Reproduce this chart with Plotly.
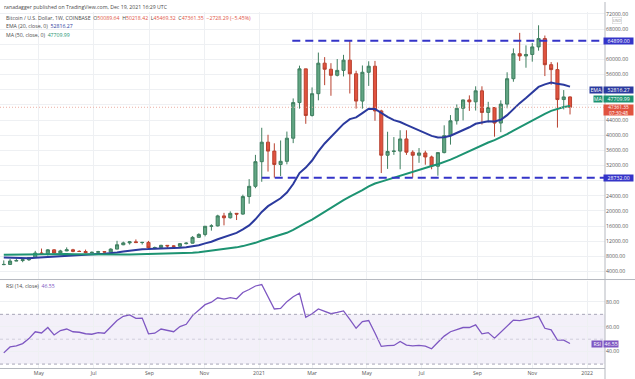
import plotly.graph_objects as go
import pandas as pd

# ---------------- data (weekly BTC/USD, Coinbase) ----------------
week_start = "2020-03-23"
n_weeks = 91
dates = pd.date_range(week_start, periods=n_weeks, freq="7D")

opens = [5830, 5880, 6775, 6910, 7120, 7700, 8900, 8720, 9730, 8900,
         9450, 9750, 9340, 9300, 9000, 9070, 9240, 9160, 9930, 11070,
         11570, 11850, 11660, 11700, 10250, 10330, 10920, 10770, 10670, 11370,
         11500, 13030, 13800, 15960, 16050, 18700, 18200, 19370, 19170, 23800,
         26500, 33000, 38150, 35800, 32270, 33100, 39200, 48600, 57500, 45200,
         50950, 59000, 57400, 55800, 57100, 59800, 56200, 49000, 56600, 58200,
         46400, 34700, 35700, 35800, 39000, 35500, 34700, 35300, 34250, 31800,
         35400, 39870, 43800, 47100, 49300, 48800, 51700, 46000, 47300, 43200,
         48200, 54900, 61500, 60900, 61300, 63300, 65500, 58600, 57300, 49400,
         50089.64]
highs = [6950, 7300, 7470, 7200, 7740, 9470, 10070, 9950, 9900, 9750,
         10380, 10000, 9590, 9800, 9300, 9470, 9330, 10150, 12120, 11900,
         12080, 12480, 11820, 12090, 10600, 11080, 10950, 10950, 11490, 11730,
         13350, 14100, 16000, 16500, 19000, 19500, 19900, 19400, 24300, 28400,
         34800, 41950, 40100, 37850, 38600, 40950, 49700, 58350, 57500, 52600,
         61800, 60600, 59000, 60100, 61200, 64899, 57000, 58400, 59500, 59600,
         46700, 40900, 39500, 41300, 41300, 36000, 36600, 35900, 34600, 35400,
         42600, 45300, 48100, 49400, 50500, 52900, 52900, 48800, 47300, 49200,
         56600, 62900, 67000, 63700, 64300, 69000, 66300, 59300, 59200, 51900,
         50218.42]
lows = [5690, 5860, 6750, 6470, 6790, 7660, 8700, 8220, 8800, 8640,
        9380, 9100, 9210, 8830, 8940, 9050, 9000, 9150, 9900, 10960,
        11130, 11520, 11140, 9880, 9880, 10200, 10130, 10400, 10530, 11180,
        11420, 12940, 13300, 14800, 15900, 16200, 18000, 17600, 19000, 21900,
        26000, 27700, 30400, 28800, 29200, 32300, 37900, 47000, 43000, 44900,
        49200, 53200, 50400, 55500, 55500, 51000, 47000, 47000, 53000, 43800,
        30000, 31100, 34800, 31000, 34800, 28800, 32700, 32200, 31000, 29300,
        35200, 37500, 42800, 43900, 46400, 46500, 42800, 43400, 39600, 40800,
        47100, 54100, 59600, 57800, 59400, 62300, 55600, 53300, 42000, 46800,
        45469.32]
closes = [5880, 6775, 6910, 7120, 7700, 8900, 8720, 9730, 8900, 9450,
          9750, 9340, 9300, 9000, 9070, 9240, 9160, 9930, 11070, 11570,
          11850, 11660, 11700, 10250, 10330, 10920, 10770, 10670, 11370, 11500,
          13030, 13800, 15960, 16050, 18700, 18200, 19370, 19170, 23800, 26500,
          33000, 38150, 35800, 32270, 33100, 39200, 48600, 57500, 45200, 50950,
          59000, 57400, 55800, 57100, 59800, 56200, 49000, 56600, 58200, 46400,
          34700, 35700, 35800, 39000, 35500, 34700, 35300, 34250, 31800, 35400,
          39870, 43800, 47100, 49300, 48800, 51700, 46000, 47300, 43200, 48200,
          54900, 61500, 60900, 61300, 63300, 65500, 58600, 57300, 49400, 50089.64,
          47361.35]
ema20 = [7700, 7612, 7545, 7505, 7524, 7655, 7756, 7944, 8035, 8170,
         8320, 8417, 8501, 8549, 8599, 8660, 8708, 8824, 9038, 9279,
         9524, 9727, 9915, 9947, 9983, 10072, 10138, 10189, 10301, 10415,
         10664, 10963, 11439, 11878, 12527, 13067, 13665, 14200, 15115, 16199,
         17798, 19736, 21266, 22314, 23341, 24851, 27112, 30005, 31452, 33308,
         35753, 37814, 39527, 41199, 42970, 44229, 44683, 45818, 46996, 46939,
         45774, 44815, 43957, 43485, 42725, 41961, 41327, 40653, 39810, 39390,
         39436, 39852, 40542, 41376, 42083, 42999, 43285, 43667, 43623, 44059,
         45289, 47000, 48458, 49823, 51258, 52726, 53402, 53874, 53542, 53299,
         52816.27]
ma50 = [8411, 8445, 8484, 8515, 8530, 8552, 8557, 8585, 8608, 8623,
        8606, 8577, 8540, 8520, 8494, 8493, 8444, 8420, 8439, 8474,
        8523, 8552, 8585, 8594, 8642, 8701, 8754, 8809, 8849, 8898,
        8987, 9097, 9281, 9455, 9684, 9910, 10147, 10390, 10723, 11096,
        11586, 12181, 12714, 13160, 13629, 14224, 15029, 16023, 16824, 17731,
        18797, 19809, 20787, 21787, 22829, 23775, 24581, 25518, 26504, 27243,
        27742, 28269, 28799, 29399, 29928, 30437, 30960, 31446, 31861, 32338,
        32898, 33541, 34249, 35030, 35799, 36615, 37320, 38053, 38690, 39424,
        40261, 41215, 42114, 43019, 43911, 44857, 45646, 46406, 46940, 47420,
        47709.99]
rsi14 = [39, 43.8, 44.6, 46.5, 50.5, 56, 55, 59.4, 53.4, 57,
         58.2, 56, 55.6, 54.4, 54, 55.3, 54.8, 59.8, 65, 68.4,
         69.5, 66.8, 67, 54.3, 54.8, 58.2, 57.3, 56, 60.2, 62,
         69, 73.5, 77.8, 79.8, 83.3, 82.2, 83.4, 82.5, 87.6, 90,
         92.8, 94, 84, 74.3, 74.8, 80.2, 84.2, 87, 67.6, 70.5,
         74.3, 72.5, 70.5, 71.5, 72.7, 66, 58.8, 64.2, 65, 55,
         44.2, 44.8, 45, 48.2, 45.2, 44.6, 45, 44.5, 42.3, 47.5,
         52.5, 56, 58, 59.4, 59.4, 61.5, 54.3, 55.3, 50.8, 55.5,
         61, 65.4, 65, 65.8, 67, 68.4, 58.8, 57.5, 49.2, 49.2,
         46.55]

level_values = [64899.00, 28732.00]
level_starts = ["2021-02-07", "2021-01-04"]
price_ticks = list(range(4000, 72001, 4000))
price_ticks_hidden = [28000, 48000, 52000, 64000]   # covered by value labels in the reference
price_label_ticks = [t for t in price_ticks if t not in price_ticks_hidden]
rsi_ticks = [40, 60, 80]
month_ticks = ["2020-05-01", "2020-07-01", "2020-09-01", "2020-11-01", "2021-01-01",
               "2021-03-01", "2021-05-01", "2021-07-01", "2021-09-01", "2021-11-01",
               "2022-01-01"]
month_labels = ["May", "Jul", "Sep", "Nov", "2021", "Mar", "May", "Jul", "Sep", "Nov", "2022"]

last_close = closes[-1]
last_ema = ema20[-1]
last_ma = ma50[-1]
last_rsi = rsi14[-1]

# ---------------- styles ----------------
W, H = 635, 379
FONT = "Open Sans"
UP_FILL, UP_LINE = "#62A684", "#3F7F60"
DN_FILL, DN_LINE = "#E1533F", "#B8412F"
EMA_C = "#2B3A9E"
MA_C = "#1D9372"
RSI_C = "#7E57C2"
LVL_C = "#3434C8"
GRID = "#EEF0F3"
AXIS = "#B5B8BF"
TXT = "#4A4A4A"


def py(p):
    return 1 - p / H


def px(p):
    return p / W


X_RIGHT = px(605)
x_range = ["2020-03-18 19:00", "2022-01-20 22:00"]
price_range = [2162, 72522]

fig = go.Figure()
fig.add_trace(go.Candlestick(
    x=dates, open=opens, high=highs, low=lows, close=closes,
    increasing=dict(fillcolor=UP_FILL, line=dict(color=UP_LINE, width=1)),
    decreasing=dict(fillcolor=DN_FILL, line=dict(color=DN_LINE, width=1)),
    whiskerwidth=0, showlegend=False, hoverinfo="skip", xaxis="x", yaxis="y"))
fig.add_trace(go.Scatter(x=dates, y=ema20, mode="lines", line=dict(color=EMA_C, width=2),
                         showlegend=False, hoverinfo="skip", xaxis="x", yaxis="y"))
fig.add_trace(go.Scatter(x=dates, y=ma50, mode="lines", line=dict(color=MA_C, width=2),
                         showlegend=False, hoverinfo="skip", xaxis="x", yaxis="y"))
fig.add_trace(go.Scatter(x=dates, y=rsi14, mode="lines", line=dict(color=RSI_C, width=1.3),
                         showlegend=False, hoverinfo="skip", xaxis="x2", yaxis="y2"))

shapes = []
# RSI band and guide lines
shapes.append(dict(type="rect", xref="paper", yref="y2", x0=0, x1=X_RIGHT, y0=30, y1=70,
                   fillcolor="rgba(126,87,194,0.09)", line=dict(width=0), layer="below"))
for lv, col in [(70, "#A8A6B8"), (50, "#D0CEDC"), (30, "#A8A6B8")]:
    shapes.append(dict(type="line", xref="paper", yref="y2", x0=0, x1=X_RIGHT, y0=lv, y1=lv,
                       line=dict(color=col, width=1, dash="3px,3px")))
# horizontal support / resistance levels
for v, s in zip(level_values, level_starts):
    shapes.append(dict(type="line", xref="x", yref="y", x0=s, x1=x_range[1], y0=v, y1=v,
                       line=dict(color=LVL_C, width=2, dash="8px,5px")))
# current price line
shapes.append(dict(type="line", xref="paper", yref="y", x0=0, x1=X_RIGHT, y0=last_close, y1=last_close,
                   line=dict(color="#EBB0A6", width=1, dash="1px,2px")))
# pane separator and price-scale border
shapes.append(dict(type="line", xref="paper", yref="paper", x0=0, x1=1, y0=py(279), y1=py(279),
                   line=dict(color=AXIS, width=1)))
shapes.append(dict(type="line", xref="paper", yref="paper", x0=X_RIGHT, x1=X_RIGHT, y0=0, y1=1,
                   line=dict(color=AXIS, width=1)))

ann = []
small = dict(family=FONT, size=5.2, color=TXT)
ann.append(dict(text="ranadagger published on TradingView.com, Dec 19, 2021 16:29 UTC",
                xref="paper", yref="paper", x=px(2), y=py(5), xanchor="left", yanchor="middle",
                showarrow=False, font=small))
red = DN_FILL
ann.append(dict(text=("Bitcoin / U.S. Dollar, 1W, COINBASE  "
                      f"O<span style='color:{red}'>50089.64</span>  "
                      f"H<span style='color:{red}'>50218.42</span>  "
                      f"L<span style='color:{red}'>45469.32</span>  "
                      f"C<span style='color:{red}'>{last_close:.2f}</span>  "
                      f"<span style='color:{red}'>\u22122728.29 (\u22125.45%)</span>"),
                xref="paper", yref="paper", x=px(4), y=py(16), xanchor="left", yanchor="middle",
                showarrow=False, font=small))
ann.append(dict(text=f"EMA (20, close, 0)  <span style='color:{EMA_C}'>{last_ema:.2f}</span>",
                xref="paper", yref="paper", x=px(4), y=py(24.5), xanchor="left", yanchor="middle",
                showarrow=False, font=small))
ann.append(dict(text=f"MA (50, close, 0)  <span style='color:{MA_C}'>{last_ma:.2f}</span>",
                xref="paper", yref="paper", x=px(4), y=py(33), xanchor="left", yanchor="middle",
                showarrow=False, font=small))
ann.append(dict(text=f"RSI (14, close)  <span style='color:{RSI_C}'>{last_rsi:.2f}</span>",
                xref="paper", yref="paper", x=px(4), y=py(286), xanchor="left", yanchor="middle",
                showarrow=False, font=small))
ann.append(dict(text="USD", xref="paper", yref="paper", x=px(612), y=py(18.5), xanchor="left",
                yanchor="middle", showarrow=False, font=dict(family=FONT, size=4.2, color="#888"),
                bgcolor="white", bordercolor="#CCC", borderwidth=0.5, borderpad=0.3))


def box(text, x0, width, ypx, color, yref="paper", yval=None, height=6, size=5.2):
    return dict(text=text, xref="paper", yref=yref, x=px(x0),
                y=(py(ypx) if yval is None else yval),
                xanchor="left", yanchor="middle", showarrow=False,
                font=dict(family=FONT, size=size, color="white"),
                bgcolor=color, width=width, height=height, align="center", borderpad=0.2)


ann.append(box(f"{level_values[0]:.2f}", 603, 29, 0, LVL_C, yref="y", yval=level_values[0]))
ann.append(box(f"{level_values[1]:.2f}", 603, 29, 0, LVL_C, yref="y", yval=level_values[1]))
ann.append(box("EMA", 589, 12, 88.5, EMA_C))
ann.append(box(f"{last_ema:.2f}", 603, 29, 88.5, EMA_C))
ann.append(box("MA", 593, 8, 97.8, MA_C))
ann.append(box(f"{last_ma:.2f}", 603, 29, 97.8, MA_C))
ann.append(box(f"{last_close:.2f}<br>07:30:48", 603, 29, 108.6, DN_FILL, height=10, size=4.8))
ann.append(box("RSI", 591, 10, 344, RSI_C))
ann.append(box(f"{last_rsi:.2f}", 603, 14, 344, RSI_C))

tick_font = dict(family=FONT, size=5.2, color="#555")

fig.update_layout(
    width=W, height=H, margin=dict(l=0, r=0, t=0, b=0),
    paper_bgcolor="white", plot_bgcolor="white",
    showlegend=False, shapes=shapes, annotations=ann,
    xaxis=dict(domain=[0, X_RIGHT], range=x_range, type="date", anchor="y",
               tickvals=month_ticks, showticklabels=False, showgrid=True, gridcolor=GRID,
               gridwidth=1, zeroline=False, rangeslider=dict(visible=False), fixedrange=True),
    yaxis=dict(domain=[py(278), py(10)], range=price_range, side="right", anchor="x",
               tickvals=price_ticks, showticklabels=False,
               showgrid=True, gridcolor=GRID, zeroline=False, ticks="", fixedrange=True),
    yaxis3=dict(overlaying="y", range=price_range, side="right", anchor="x",
                tickvals=price_label_ticks, tickformat=".2f", tickfont=tick_font,
                showgrid=False, zeroline=False, ticks="", fixedrange=True),
    xaxis2=dict(domain=[0, X_RIGHT], range=x_range, type="date", anchor="y2", matches="x",
                tickvals=month_ticks, ticktext=month_labels, tickfont=tick_font,
                showgrid=True, gridcolor=GRID, zeroline=False, showline=True, linecolor=AXIS,
                ticks="", fixedrange=True),
    yaxis2=dict(domain=[py(368), py(280)], range=[26.8, 97.2], side="right", anchor="x2",
                tickvals=rsi_ticks, tickformat=".2f", tickfont=tick_font,
                showgrid=True, gridcolor=GRID, zeroline=False, ticks="", fixedrange=True),
)
# invisible helper so the label axis is drawn
fig.add_trace(go.Scatter(x=[dates[0]], y=[price_range[0]], mode="markers", marker=dict(opacity=0),
                         showlegend=False, hoverinfo="skip", xaxis="x", yaxis="y3"))

fig.write_html("out.html", config={"displayModeBar": False},
               post_script="document.body.style.margin='0';document.body.style.overflow='hidden';")
